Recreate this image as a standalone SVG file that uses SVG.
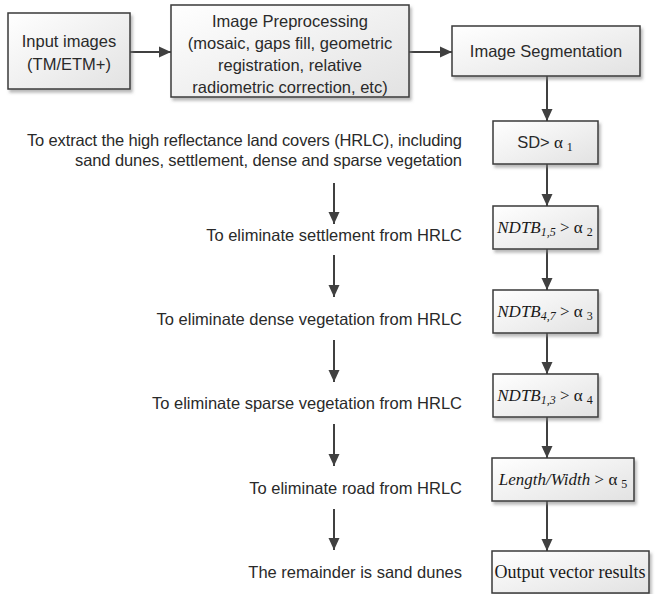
<svg xmlns="http://www.w3.org/2000/svg" width="655" height="594" viewBox="0 0 655 594">
<defs>
<linearGradient id="g" x1="0" y1="0" x2="1" y2="1">
<stop offset="0" stop-color="#ffffff"/>
<stop offset="1" stop-color="#e2e2e2"/>
</linearGradient>
<filter id="sh" x="-10%" y="-10%" width="130%" height="140%">
<feDropShadow dx="2" dy="3" stdDeviation="1.8" flood-color="#808080" flood-opacity="0.55"/>
</filter>
<marker id="ah" markerUnits="userSpaceOnUse" markerWidth="12" markerHeight="12" refX="12" refY="6" orient="auto">
<path d="M0,0.5 L12,6 L0,11.5 z" fill="#404040"/>
</marker>
</defs>
<style>
.box{fill:url(#g);stroke:#3a3a3a;stroke-width:1.5;filter:url(#sh)}
.s{font-family:"Liberation Sans",Arial,sans-serif;font-size:16.5px;fill:#2a2a2a}
.r{font-family:"Liberation Serif","Times New Roman",serif;font-size:17px;fill:#1a1a1a}
.l{font-family:"Liberation Sans",Arial,sans-serif;font-size:16.5px;fill:#2a2a2a;text-anchor:end}
.c{text-anchor:middle}
.e{stroke:#404040;stroke-width:2;fill:none;marker-end:url(#ah)}
.sub{font-size:12px}
</style>
<rect width="655" height="594" fill="#ffffff"/>
<g id="connectors">
<line class="e" x1="130" y1="52" x2="171" y2="52"/>
<line class="e" x1="409" y1="52" x2="452" y2="52"/>
<line class="e" x1="547" y1="76" x2="547" y2="121"/>
<line class="e" x1="547" y1="164" x2="547" y2="206"/>
<line class="e" x1="547" y1="249" x2="547" y2="290"/>
<line class="e" x1="547" y1="333" x2="547" y2="374"/>
<line class="e" x1="547" y1="417" x2="547" y2="458"/>
<line class="e" x1="547" y1="501" x2="547" y2="551"/>
<line class="e" x1="334" y1="183" x2="334" y2="224"/>
<line class="e" x1="334" y1="255" x2="334" y2="297"/>
<line class="e" x1="334" y1="340" x2="334" y2="382"/>
<line class="e" x1="334" y1="424" x2="334" y2="466"/>
<line class="e" x1="334" y1="509" x2="334" y2="550"/>
</g>
<g id="input">
<rect class="box" x="8" y="13" width="122" height="76"/>
<text class="s c" x="69" y="47">Input images</text>
<text class="s c" x="69" y="70">(TM/ETM+)</text>
</g>
<g id="preprocessing">
<rect class="box" x="171" y="5" width="238" height="92"/>
<text class="s c" x="290" y="27">Image Preprocessing</text>
<text class="s c" x="290" y="49">(mosaic, gaps fill, geometric</text>
<text class="s c" x="290" y="71">registration,  relative</text>
<text class="s c" x="290" y="93">radiometric correction, etc)</text>
</g>
<g id="segmentation">
<rect class="box" x="452" y="26" width="188" height="50"/>
<text class="s c" x="546" y="57">Image Segmentation</text>
</g>
<g id="sd">
<rect class="box" x="493" y="121" width="105" height="43"/>
<text class="s c" x="545" y="148">SD&gt;<tspan class="r" font-size="16"> α</tspan><tspan class="r sub" dx="4" dy="3">1</tspan></text>
</g>
<g id="ndtb15">
<rect class="box" x="493" y="206" width="105" height="43"/>
<text class="r c" x="545" y="233"><tspan font-style="italic">NDTB</tspan><tspan class="sub" font-style="italic" dy="3">1,5</tspan><tspan dy="-3"> &gt; α</tspan><tspan class="sub" dx="4" dy="3">2</tspan></text>
</g>
<g id="ndtb47">
<rect class="box" x="493" y="290" width="105" height="43"/>
<text class="r c" x="545" y="317"><tspan font-style="italic">NDTB</tspan><tspan class="sub" font-style="italic" dy="3">4,7</tspan><tspan dy="-3"> &gt; α</tspan><tspan class="sub" dx="4" dy="3">3</tspan></text>
</g>
<g id="ndtb13">
<rect class="box" x="493" y="374" width="105" height="43"/>
<text class="r c" x="545" y="401"><tspan font-style="italic">NDTB</tspan><tspan class="sub" font-style="italic" dy="3">1,3</tspan><tspan dy="-3"> &gt; α</tspan><tspan class="sub" dx="4" dy="3">4</tspan></text>
</g>
<g id="lengthwidth">
<rect class="box" x="492" y="458" width="142" height="43"/>
<text class="r c" x="563" y="485"><tspan font-style="italic">Length/Width</tspan><tspan> &gt; α</tspan><tspan class="sub" dx="4" dy="3">5</tspan></text>
</g>
<g id="output">
<rect class="box" x="492" y="551" width="157" height="42"/>
<text class="r c" x="570" y="578" style="font-size:18px">Output vector results</text>
</g>
<g id="labels">
<text class="l" x="462" y="146" textLength="435" lengthAdjust="spacing">To extract the high reflectance land covers (HRLC), including</text>
<text class="l" x="462" y="166" textLength="387" lengthAdjust="spacing">sand dunes, settlement, dense and sparse vegetation</text>
<text class="l" x="462" y="241">To eliminate settlement from HRLC</text>
<text class="l" x="462" y="325">To eliminate dense vegetation from HRLC</text>
<text class="l" x="462" y="409">To eliminate sparse vegetation from HRLC</text>
<text class="l" x="462" y="494">To eliminate road from HRLC</text>
<text class="l" x="462" y="578">The remainder is sand dunes</text>
</g>
</svg>
